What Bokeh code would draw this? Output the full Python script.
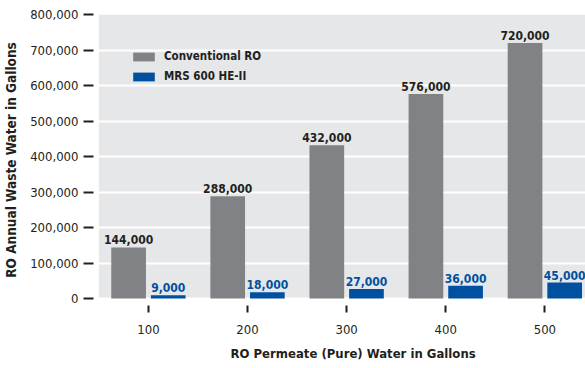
from bokeh.plotting import figure
from bokeh.models import (ColumnDataSource, Range1d, Legend, LegendItem, NumeralTickFormatter,
                          FixedTicker, BoxAnnotation, Title)
from bokeh.core.properties import value
from bokeh.embed import file_html
from bokeh.resources import INLINE

categories = ["100", "200", "300", "400", "500"]
conventional = [144000, 288000, 432000, 576000, 720000]
mrs = [9000, 18000, 27000, 36000, 45000]
series_names = ["Conventional RO", "MRS 600 HE-II"]
y_ticks = [0, 100000, 200000, 300000, 400000, 500000, 600000, 700000, 800000]

FONT = "DejaVu Sans Condensed"
GRAY = "#818285"
BLUE = "#0050a0"
DARK = "#231f20"
BG = "#e6e7e8"

pos = list(range(1, len(categories) + 1))
src = ColumnDataSource(dict(
    x_conv=[i - 0.2 for i in pos],
    x_mrs=[i + 0.2 for i in pos],
    conv=conventional,
    mrs=mrs,
    conv_lbl=[f"{v:,}" for v in conventional],
    mrs_lbl=[f"{v:,}" for v in mrs],
))

p = figure(x_range=Range1d(0.345, 5.41), y_range=Range1d(-19650, 800000),
           width=585, height=368, output_backend="svg", toolbar_location=None,
           min_border_left=82, min_border_right=0, min_border_top=14, min_border_bottom=62)
p.background_fill_color = "white"
p.border_fill_color = "white"
p.outline_line_color = None

# plot panel background (starts half a category left of the first group, at the zero line)
bg = BoxAnnotation(left=0.5, bottom=0, top=800000, fill_color=BG, fill_alpha=1,
                   line_color=None, level="image")
p.add_layout(bg)

r1 = p.vbar(x="x_conv", top="conv", width=0.35, source=src, color=GRAY, line_color=None)
r2 = p.vbar(x="x_mrs", top="mrs", width=0.35, source=src, color=BLUE, line_color=None)

p.text(x="x_conv", y="conv", text="conv_lbl", source=src,
       text_align="center", text_baseline="bottom", y_offset=-3,
       text_font=value(FONT), text_font_style="bold", text_font_size="12px", text_color=DARK)
p.text(x="x_mrs", y="mrs", text="mrs_lbl", source=src,
       text_align="center", text_baseline="bottom", y_offset=-3,
       text_font=value(FONT), text_font_style="bold", text_font_size="12px", text_color=BLUE)

legend = Legend(items=[LegendItem(label=series_names[0], renderers=[r1]),
                       LegendItem(label=series_names[1], renderers=[r2])],
                location=(47, 222), background_fill_alpha=0, border_line_color=None,
                label_text_font=FONT, label_text_font_style="bold", label_text_font_size="11.5px",
                label_text_color=DARK, glyph_width=27, glyph_height=11, spacing=6,
                padding=0, margin=0, label_standoff=7, label_height=11)
p.add_layout(legend)

p.xgrid.grid_line_color = None
p.ygrid.grid_line_color = "white"
p.ygrid.grid_line_width = 2
p.ygrid.ticker = FixedTicker(ticks=y_ticks)

p.yaxis.ticker = FixedTicker(ticks=y_ticks)
p.yaxis.formatter = NumeralTickFormatter(format="0,0")
p.yaxis.axis_line_color = None
p.yaxis.major_tick_in = 10
p.yaxis.major_tick_out = 0
p.yaxis.major_tick_line_width = 2
p.yaxis.major_tick_line_color = DARK
p.yaxis.minor_tick_line_color = None
p.yaxis.major_label_text_font = FONT
p.yaxis.major_label_text_font_size = "13px"
p.yaxis.major_label_text_color = DARK
p.yaxis.major_label_standoff = 5
p.yaxis.axis_label = "RO Annual Waste Water in Gallons"
p.yaxis.axis_label_text_font = FONT
p.yaxis.axis_label_text_font_style = "bold"
p.yaxis.axis_label_text_font_size = "13.5px"
p.yaxis.axis_label_text_color = DARK
p.yaxis.axis_label_standoff = 8

xax = p.xaxis[0]
xax.ticker = FixedTicker(ticks=pos)
xax.major_label_overrides = {i: c for i, c in zip(pos, categories)}
xax.axis_line_color = None
xax.major_tick_in = 0
xax.major_tick_out = 7
xax.major_tick_line_width = 2
xax.major_tick_line_color = DARK
xax.minor_tick_line_color = None
xax.major_label_text_font = FONT
xax.major_label_text_font_size = "13px"
xax.major_label_text_color = DARK
xax.major_label_standoff = 12

xtitle = Title(text="RO Permeate (Pure) Water in Gallons", align="left", offset=147,
               text_font=FONT, text_font_style="bold", text_font_size="13px",
               text_color=DARK, standoff=15)
p.add_layout(xtitle, "below")

open("out.html", "w").write(file_html(p, INLINE))
